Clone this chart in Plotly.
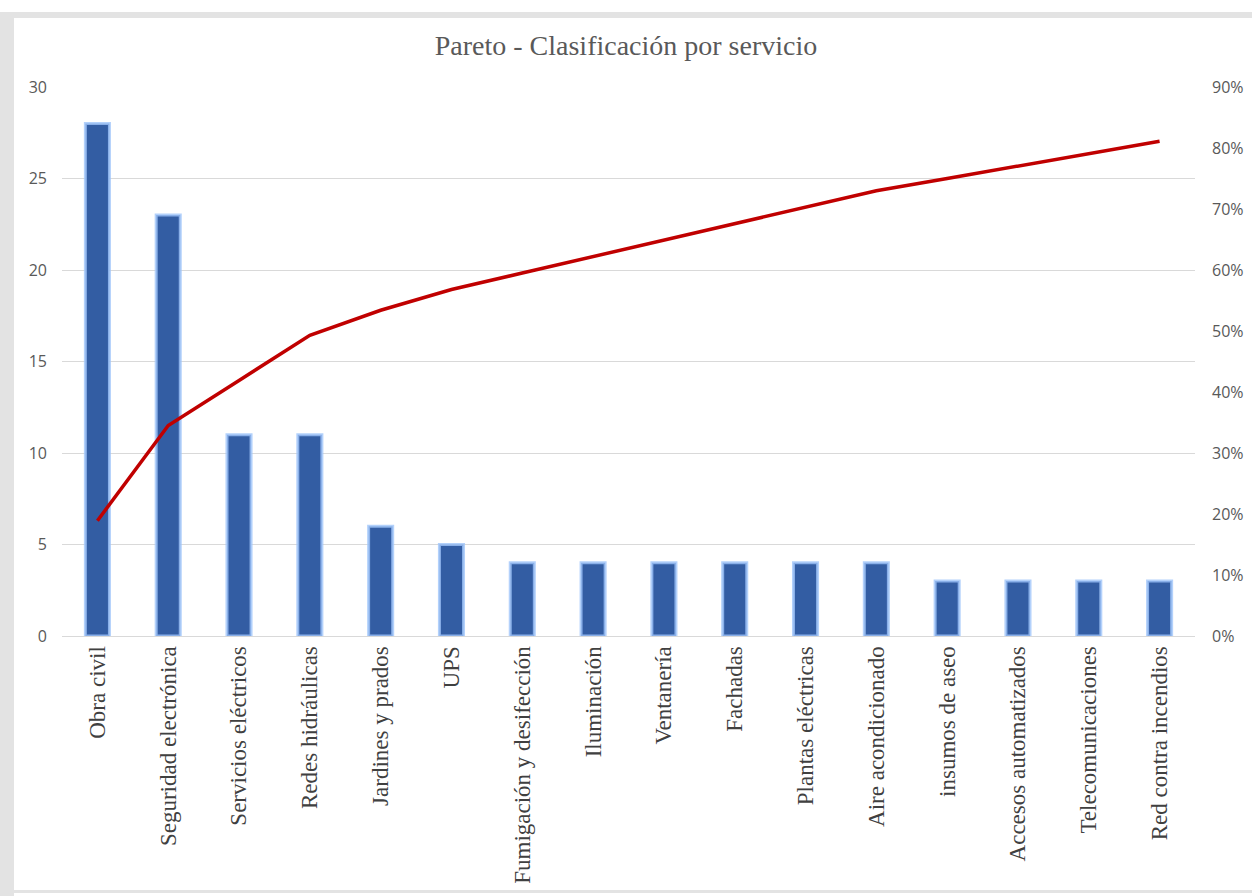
import plotly.graph_objects as go

categories = ["Obra civil", "Seguridad electrónica", "Servicios eléctricos", "Redes hidráulicas",
              "Jardines y prados", "UPS", "Fumigación y desifección", "Iluminación", "Ventanería",
              "Fachadas", "Plantas eléctricas", "Aire acondicionado", "insumos de aseo",
              "Accesos automatizados", "Telecomunicaciones", "Red contra incendios"]
counts = [28, 23, 11, 11, 6, 5, 4, 4, 4, 4, 4, 4, 3, 3, 3, 3]
cum_pct = [0.189, 0.345, 0.419, 0.493, 0.534, 0.568, 0.595, 0.622, 0.649, 0.676,
           0.703, 0.730, 0.750, 0.770, 0.791, 0.811]

W, H = 1252, 896
L, R, T, B = 62, 57, 87, 260
pw = W - L - R
ph = H - T - B

def px(x):
    return (x - L) / pw

def py(y):
    return (H - B - y) / ph

fig = go.Figure()
fig.add_trace(go.Bar(
    x=categories, y=counts, width=0.34,
    marker=dict(color="#335DA3", line=dict(color="rgba(160,198,250,0.8)", width=3)),
    showlegend=False, hoverinfo="x+y"))
fig.add_trace(go.Scatter(
    x=categories, y=cum_pct, yaxis="y2", mode="lines",
    line=dict(color="#C00000", width=3.5), showlegend=False))

fig.update_layout(
    width=W, height=H,
    margin=dict(l=L, r=R, t=T, b=B, autoexpand=False),
    paper_bgcolor="white", plot_bgcolor="white",
    title=dict(text="Pareto - Clasificación por servicio", x=0.5, xanchor="center",
               y=1 - 45 / H, yanchor="middle",
               font=dict(family="Liberation Serif", size=28, color="#595959")),
    xaxis=dict(tickangle=-90, showgrid=False, showline=True, linecolor="#D9D9D9",
               tickfont=dict(family="Liberation Serif", size=23, color="#404040"),
               ticks="", range=[-0.5, 15.5], automargin=False),
    yaxis=dict(range=[0, 30], dtick=5, showgrid=True, gridcolor="#D9D9D9", gridwidth=1,
               zeroline=False, tickfont=dict(family="Open Sans", size=16, color="#595959"),
               ticklabelstandoff=14, automargin=False),
    yaxis2=dict(range=[0, 0.9], dtick=0.1, tickformat=".0%", overlaying="y", side="right",
                showgrid=False, zeroline=False,
                tickfont=dict(family="Open Sans", size=16, color="#595959"),
                ticklabelstandoff=16, automargin=False),
    shapes=[
        dict(type="rect", xref="paper", yref="paper", x0=px(0), x1=px(14), y0=py(H), y1=py(16),
             fillcolor="#E3E3E3", line=dict(width=0), layer="below"),
        dict(type="rect", xref="paper", yref="paper", x0=px(0), x1=px(W), y0=py(18), y1=py(12),
             fillcolor="#E3E3E3", line=dict(width=0), layer="below"),
        dict(type="rect", xref="paper", yref="paper", x0=px(14), x1=px(W), y0=py(H - 3), y1=py(H - 6),
             fillcolor="#E3E3E3", line=dict(width=0), layer="below"),
    ],
)

fig.write_html("out.html")
